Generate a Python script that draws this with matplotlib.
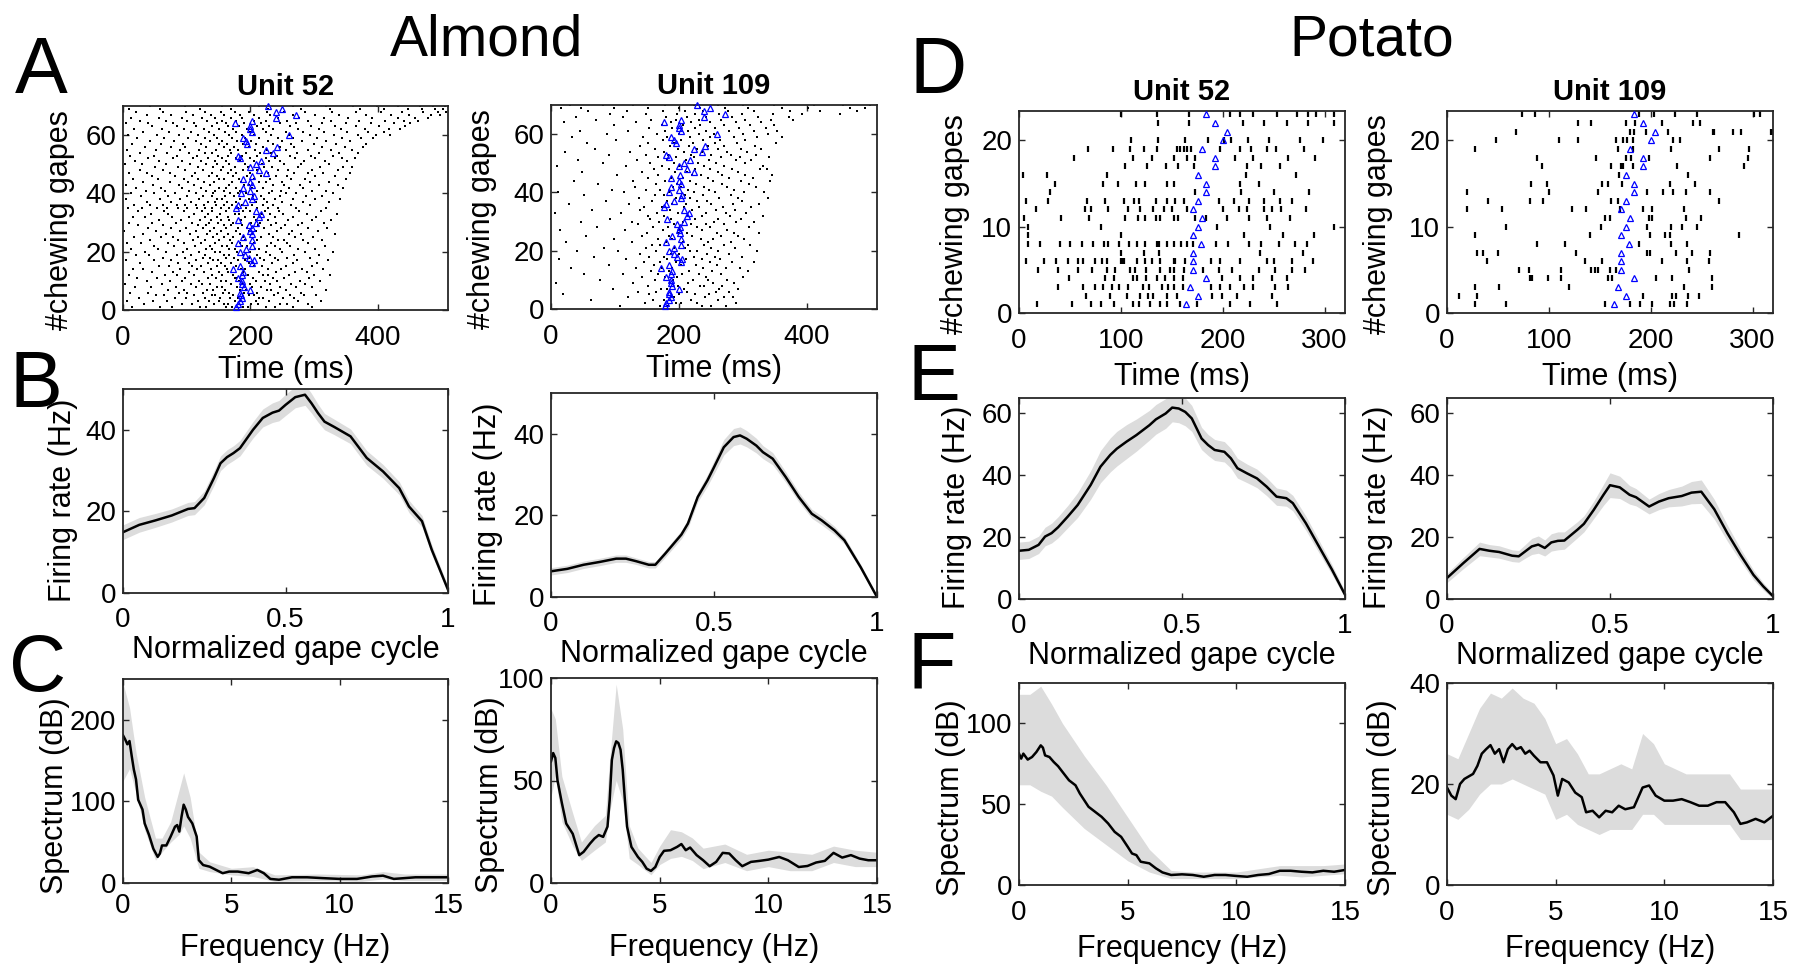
import numpy as np
import matplotlib
matplotlib.use('Agg')
import matplotlib.pyplot as plt

plt.rcParams['font.family'] = ['Liberation Sans', 'DejaVu Sans']

# ---------------- data ----------------
# gape onset per chewing gape (blue triangles), shared by both units of a session
almond_gapes = [178, 180, 184, 187, 185, 184, 200, 190, 187, 187, 180, 187, 189, 172, 184,
                203, 205, 197, 192, 184, 193, 203, 180, 203, 189, 202, 200, 202, 197, 208,
                181, 213, 216, 208, 177, 180, 192, 203, 205, 185, 200, 188, 203, 200, 188,
                202, 224, 213, 200, 208, 217, 184, 180, 236, 224, 241, 195, 193, 188, 260,
                203, 200, 200, 176, 203, 240, 272, 240, 249, 228]
potato_gapes = [164, 176, 168, 184, 171, 171, 171, 179, 171, 176, 180, 171, 176, 184, 184,
                176, 192, 192, 180, 200, 204, 192, 184]

# spike times (ms) per gape, Almond
almond_u52 = [
    [14, 58, 77, 121, 130, 162, 171, 189, 196, 224, 238, 266, 297],
    [33, 92, 108, 143, 159, 164, 201, 212, 247, 258, 290],
    [6, 47, 69, 117, 135, 150, 176, 183, 208, 229, 275, 311],
    [25, 81, 99, 128, 152, 168, 181, 214, 220, 251, 268],
    [52, 64, 111, 139, 145, 173, 198, 205, 237, 262, 284, 303],
    [11, 39, 88, 101, 126, 157, 166, 190, 211, 243, 279],
    [70, 95, 132, 141, 160, 184, 193, 226, 233, 256, 318],
    [19, 44, 83, 114, 147, 155, 179, 202, 216, 246, 272, 296],
    [3, 61, 106, 124, 137, 169, 187, 199, 231, 264, 285],
    [37, 74, 93, 119, 153, 161, 182, 208, 223, 241, 277, 309],
    [22, 53, 98, 133, 146, 175, 178, 204, 235, 252, 292],
    [9, 66, 85, 112, 140, 156, 172, 196, 219, 228, 261, 300, 325],
    [45, 79, 104, 127, 151, 165, 189, 213, 240, 270, 288],
    [16, 31, 90, 116, 138, 163, 185, 192, 227, 248, 281, 314],
    [57, 72, 109, 123, 148, 160, 177, 206, 218, 255, 297],
    [27, 86, 103, 134, 154, 170, 198, 203, 234, 266, 305],
    [4, 49, 76, 115, 142, 149, 181, 191, 221, 244, 273, 322],
    [63, 97, 125, 136, 161, 174, 197, 215, 239, 258, 294],
    [20, 41, 84, 107, 129, 158, 167, 188, 210, 231, 268, 308],
    [35, 68, 94, 120, 144, 152, 179, 200, 224, 250, 286, 329],
    [12, 55, 101, 131, 139, 166, 176, 207, 214, 247, 275, 301],
    [48, 80, 113, 137, 155, 163, 186, 195, 226, 238, 262, 317],
    [7, 29, 71, 96, 122, 145, 171, 183, 205, 233, 257, 290],
    [42, 87, 110, 128, 150, 168, 192, 211, 243, 252, 283, 312],
    [18, 60, 78, 118, 141, 159, 173, 189, 217, 236, 270, 298],
    [31, 67, 105, 132, 147, 165, 184, 203, 229, 261, 279, 333],
    [2, 51, 89, 114, 136, 153, 177, 198, 209, 242, 265, 306],
    [40, 75, 99, 126, 143, 162, 180, 194, 222, 248, 291, 320],
    [24, 62, 117, 130, 158, 170, 187, 212, 232, 254, 274],
    [10, 46, 83, 108, 135, 149, 172, 201, 215, 240, 281, 315],
    [56, 91, 121, 138, 154, 167, 185, 208, 227, 259, 296, 327],
    [15, 34, 77, 103, 129, 147, 164, 191, 206, 238, 266, 303],
    [44, 70, 112, 134, 152, 175, 182, 218, 231, 251, 289, 336],
    [23, 65, 95, 124, 140, 161, 189, 199, 223, 245, 276, 310],
    [8, 30, 53, 69, 87, 101, 116, 129, 140, 154, 167, 180, 193, 211, 228, 244, 272, 318],
    [17, 43, 62, 85, 97, 114, 127, 146, 158, 171, 186, 202, 219, 236, 263, 294],
    [38, 76, 106, 133, 144, 163, 178, 209, 226, 250, 282, 323],
    [5, 58, 90, 119, 148, 156, 183, 197, 222, 239, 267, 301, 341],
    [28, 71, 100, 125, 139, 160, 174, 204, 216, 246, 287, 313],
    [13, 49, 82, 115, 142, 168, 181, 193, 229, 255, 272, 330],
    [36, 66, 104, 130, 145, 158, 184, 211, 234, 248, 296, 319],
    [21, 59, 93, 122, 150, 162, 177, 202, 220, 261, 283, 345],
    [4, 47, 88, 111, 137, 166, 190, 197, 236, 253, 278, 307, 337],
    [32, 73, 102, 127, 143, 171, 185, 213, 225, 249, 293, 324],
    [16, 55, 96, 118, 151, 159, 182, 206, 231, 264, 286, 350],
    [45, 81, 109, 135, 147, 173, 194, 217, 240, 257, 301, 332],
    [9, 37, 74, 113, 139, 164, 178, 200, 227, 268, 290, 314, 356],
    [26, 63, 98, 126, 153, 169, 188, 210, 243, 259, 297, 338],
    [50, 86, 117, 141, 157, 175, 196, 221, 234, 275, 309, 346, 359],
    [3, 30, 67, 105, 131, 148, 167, 191, 218, 252, 279, 323],
    [19, 57, 92, 123, 144, 162, 183, 205, 229, 246, 284, 317, 352],
    [40, 78, 110, 134, 156, 178, 199, 224, 238, 270, 302, 343, 364],
    [11, 48, 84, 116, 149, 165, 187, 211, 241, 262, 295, 329],
    [27, 69, 103, 128, 140, 170, 193, 215, 233, 273, 308, 339, 369],
    [6, 52, 89, 120, 146, 168, 180, 207, 226, 256, 291, 326, 360],
    [35, 75, 98, 131, 158, 174, 197, 219, 247, 268, 313, 348, 377],
    [14, 60, 94, 122, 151, 163, 189, 209, 236, 263, 299, 335, 382],
    [42, 80, 114, 137, 155, 179, 201, 228, 250, 281, 318, 357],
    [22, 65, 102, 129, 147, 171, 192, 213, 244, 266, 304, 344, 373, 392],
    [8, 53, 88, 118, 143, 166, 186, 206, 232, 261, 294, 331, 368, 397, 419],
    [31, 72, 107, 135, 160, 177, 200, 225, 255, 283, 316, 352, 384, 409],
    [18, 61, 96, 127, 151, 172, 195, 220, 236, 274, 307, 342, 379, 417, 434],
    [46, 84, 115, 140, 164, 182, 211, 229, 262, 295, 333, 365, 401, 443],
    [5, 40, 79, 112, 148, 161, 190, 216, 247, 271, 312, 350, 389, 426, 451],
    [26, 68, 101, 132, 156, 178, 205, 224, 258, 290, 327, 370, 411, 441, 463],
    [12, 57, 93, 124, 145, 169, 187, 214, 243, 276, 316, 353, 391, 432, 458, 478],
    [37, 76, 110, 138, 159, 183, 206, 231, 267, 302, 339, 381, 420, 449, 484, 498],
    [20, 63, 99, 128, 153, 176, 198, 226, 252, 286, 328, 366, 405, 438, 470, 494, 507],
    [9, 58, 121, 169, 227, 280, 325, 372, 410, 447, 469, 489, 502],
    [43, 97, 155, 214, 266, 318, 361, 399, 431, 466, 486, 506],
]
almond_u109 = [
    [108, 171, 183, 236, 251, 274],
    [147, 196, 204, 229, 289],
    [63, 159, 177, 219, 262],
    [121, 188, 193, 241, 270, 284],
    [19, 154, 201, 226, 247],
    [136, 165, 212, 258, 279],
    [97, 172, 181, 208, 263, 293],
    [151, 199, 233, 239, 268],
    [8, 128, 186, 214, 254, 287],
    [76, 163, 191, 222, 245, 276],
    [142, 179, 197, 243, 301],
    [52, 112, 168, 205, 231, 266],
    [157, 184, 216, 252, 308],
    [31, 133, 174, 189, 238, 273, 296],
    [90, 161, 203, 227, 259],
    [145, 170, 195, 248, 283, 317],
    [12, 118, 182, 211, 236, 265],
    [68, 153, 176, 224, 257, 299],
    [139, 187, 200, 244, 278],
    [41, 105, 164, 218, 229, 262, 322],
    [83, 149, 192, 209, 251, 288],
    [158, 171, 215, 239, 271, 311],
    [24, 126, 180, 206, 246, 281],
    [99, 167, 190, 234, 253, 302],
    [55, 143, 185, 221, 266, 293],
    [150, 198, 213, 259, 286, 325],
    [14, 115, 175, 202, 237, 276],
    [72, 160, 183, 228, 249, 309],
    [136, 193, 219, 242, 271],
    [47, 127, 169, 207, 255, 290, 318],
    [93, 155, 188, 225, 262, 297],
    [151, 177, 214, 236, 280, 331],
    [6, 109, 166, 199, 243, 274, 305],
    [64, 140, 186, 220, 258, 288],
    [146, 173, 208, 232, 269, 313],
    [28, 122, 189, 211, 251, 284, 326],
    [86, 158, 181, 229, 244, 299],
    [137, 196, 217, 263, 292, 340],
    [51, 163, 176, 210, 238, 282],
    [11, 114, 184, 223, 256, 302, 334],
    [95, 148, 170, 215, 247, 287],
    [132, 191, 204, 240, 276, 321],
    [74, 165, 197, 227, 268, 309],
    [36, 129, 179, 218, 253, 298, 342],
    [152, 187, 206, 245, 279, 316],
    [104, 168, 221, 235, 267, 304, 346],
    [48, 143, 194, 213, 262, 293],
    [161, 185, 226, 249, 283, 327, 338],
    [9, 118, 174, 201, 239, 271, 332],
    [82, 155, 192, 230, 258, 303],
    [43, 135, 181, 211, 247, 289, 313],
    [167, 196, 224, 266, 295, 341],
    [91, 148, 183, 219, 250, 282, 320],
    [22, 124, 177, 208, 236, 276, 307],
    [69, 162, 199, 229, 261, 298, 328],
    [139, 186, 216, 245, 270, 319],
    [57, 151, 193, 222, 257, 291, 352],
    [102, 175, 204, 238, 265, 304],
    [33, 144, 182, 217, 249, 286, 323, 361],
    [87, 166, 200, 232, 255, 300, 339],
    [46, 121, 178, 214, 243, 279, 318, 354],
    [153, 190, 226, 257, 294, 336],
    [98, 173, 207, 233, 271, 312, 349],
    [21, 133, 188, 219, 248, 289, 329],
    [71, 157, 196, 231, 266, 303, 344, 378],
    [39, 113, 180, 213, 242, 283, 324, 372],
    [92, 148, 197, 226, 263, 299, 347, 393, 452],
    [58, 119, 175, 209, 238, 277, 318, 374, 421, 478],
    [16, 47, 98, 152, 201, 233, 272, 308, 362, 402, 468, 491],
    [29, 82, 128, 178, 224, 262, 301, 349, 411, 457, 499],
]

# spike times (ms) per gape, Potato
potato_u52 = [
    [18, 52, 71, 80, 93, 112, 118, 129, 138, 145, 158, 175, 207, 227, 253],
    [66, 89, 106, 119, 127, 132, 145, 155, 189, 199, 214, 248],
    [38, 63, 75, 82, 91, 98, 107, 122, 128, 140, 146, 152, 161, 188, 197, 207, 221, 230, 251, 264],
    [49, 84, 93, 112, 116, 125, 135, 143, 152, 161, 199, 217, 230, 248, 263],
    [19, 38, 58, 72, 86, 94, 109, 114, 125, 138, 148, 152, 162, 181, 196, 209, 236, 251, 268, 281],
    [7, 25, 36, 48, 58, 63, 75, 81, 86, 100, 101, 103, 116, 124, 131, 138, 152, 153, 163,
     188, 197, 217, 243, 250, 268, 289],
    [100, 123, 137, 237, 279],
    [9, 21, 40, 50, 62, 73, 83, 87, 98, 108, 116, 124, 135, 137, 145, 152, 159, 165, 171,
     193, 205, 226, 238, 255, 271, 283],
    [9, 100, 221, 259, 290],
    [9, 80, 194, 246, 309],
    [5, 41, 69, 104, 117, 124, 134, 138, 152, 156, 173, 184, 204, 226, 243, 266],
    [17, 65, 71, 87, 107, 119, 132, 142, 150, 165, 200, 216, 224, 240, 248, 257, 282],
    [7, 28, 67, 84, 103, 113, 118, 134, 145, 153, 162, 196, 211, 226, 240, 256, 268],
    [30, 173, 218, 250, 285],
    [35, 82, 97, 115, 124, 145, 152, 217, 236],
    [4, 27, 86, 223, 272],
    [104, 126, 144, 156, 172, 224, 238, 256],
    [54, 112, 131, 152, 165, 173, 212, 230, 264, 291],
    [68, 92, 109, 123, 135, 155, 158, 162, 165, 169, 197, 217, 228, 243, 252, 280],
    [110, 136, 163, 186, 201, 208, 225, 245, 276, 298],
    [],
    [136, 167, 220, 240, 263, 284, 309],
    [100, 135, 167, 207, 217, 230, 253, 273, 284, 292, 309],
]
potato_u109 = [
    [27, 58, 155, 180, 189, 201, 219, 223, 236],
    [12, 29, 192, 221, 225, 237, 247],
    [27, 51, 120, 233, 260],
    [81, 83, 99, 112, 158, 162, 205, 221, 260],
    [71, 80, 112, 141, 145, 148, 160, 166, 238],
    [39, 135, 152, 211, 236, 257],
    [29, 35, 50, 127, 196, 199, 225, 240, 258],
    [88, 116, 188, 220, 236],
    [27, 140, 199, 214, 219, 287],
    [58, 151, 196, 220, 231, 245],
    [155, 160, 198, 201, 235, 249],
    [20, 54, 123, 136, 170, 192, 201, 233],
    [40, 81, 94, 161, 168, 267],
    [20, 100, 148, 196, 212, 222, 235, 258],
    [82, 98, 152, 158, 172, 219, 243],
    [169, 237],
    [93, 161, 171, 173, 183, 226, 292],
    [88, 146, 176, 181, 198, 258, 295],
    [27, 168, 183, 220, 267, 296],
    [48, 110, 129, 166, 173, 177, 183, 222, 229],
    [68, 180, 184, 195, 217, 261, 262, 281, 289, 318, 319],
    [129, 141, 176, 185, 211, 241, 248],
    [74, 86, 188, 203, 224, 245, 301, 307],
]

# firing rate vs normalized gape cycle (mean and s.e.m.)
alm52_phase = [0, .05, .1, .15, .2, .22, .25, .28, .3, .32, .34, .36, .4, .43, .46, .48, .5,
               .53, .56, .58, .6, .62, .65, .7, .75, .8, .85, .88, .92, .95, 1]
alm52_rate = [14.9, 16.7, 17.8, 19.0, 20.6, 20.8, 23.3, 28.2, 31.8, 33.3, 34.3, 35.5, 40.0,
              42.9, 44.2, 44.7, 46.1, 48.0, 48.6, 46.5, 44.1, 42.0, 40.7, 38.4, 33.1, 29.8,
              25.7, 21.2, 17.6, 10.6, 0.8]
alm52_sem = [1.8, 1.8, 1.7, 1.6, 1.6, 1.6, 1.7, 1.8, 1.8, 1.8, 1.8, 1.9, 2.0, 2.2, 2.4, 2.5,
             2.6, 2.6, 2.6, 2.4, 2.2, 2.0, 1.9, 1.8, 1.8, 1.7, 1.6, 1.5, 1.4, 1.2, 0.8]

alm109_phase = [0, .05, .1, .15, .2, .23, .26, .3, .32, .35, .4, .42, .45, .48, .5, .53, .56,
                .58, .6, .63, .65, .68, .72, .76, .8, .83, .87, .9, .95, 1]
alm109_rate = [6.3, 6.9, 7.9, 8.6, 9.4, 9.4, 8.8, 7.9, 7.9, 10.6, 15.3, 18.0, 24.5, 28.6,
               31.8, 36.7, 39.2, 39.6, 38.8, 37.1, 35.5, 33.9, 29.4, 24.5, 20.4, 18.8, 16.3,
               13.9, 7.3, 0.0]
alm109_sem = [0.9, 0.9, 0.9, 0.9, 0.9, 0.9, 0.8, 0.8, 0.8, 0.9, 1.0, 1.1, 1.2, 1.4, 1.6, 1.9,
              2.1, 2.1, 2.0, 1.8, 1.6, 1.5, 1.3, 1.2, 1.1, 1.1, 1.0, 0.9, 0.7, 0.4]

pot52_phase = [0, .03, .06, .08, .1, .12, .15, .18, .22, .25, .28, .3, .33, .36, .38, .4, .42,
               .45, .47, .49, .51, .53, .56, .58, .6, .63, .65, .67, .7, .73, .76, .79, .82,
               .84, .88, .92, .96, 1]
pot52_rate = [15.6, 15.9, 17.5, 20.2, 21.3, 23.2, 26.7, 30.4, 36.9, 42.8, 46.6, 48.6, 50.9,
              53.0, 54.6, 56.2, 58.1, 60.0, 61.9, 61.6, 60.5, 58.4, 51.9, 49.8, 48.2, 47.6,
              45.5, 42.3, 40.6, 39.0, 36.3, 33.1, 32.6, 31.0, 24.5, 17.0, 9.5, 1.4]
pot52_sem = [2.8, 2.8, 2.8, 3.0, 3.2, 3.4, 3.6, 4.0, 4.6, 5.2, 5.5, 5.6, 5.5, 5.2, 5.0, 4.8,
             4.8, 4.8, 4.6, 4.6, 4.5, 4.2, 3.6, 3.4, 3.4, 3.3, 3.2, 3.2, 3.0, 3.0, 2.9, 2.8,
             2.6, 2.5, 2.3, 2.0, 1.6, 1.0]

pot109_phase = [0, .05, .1, .13, .16, .2, .22, .24, .26, .28, .3, .32, .34, .36, .4, .42, .45,
                .48, .5, .53, .56, .58, .62, .65, .68, .72, .75, .78, .82, .86, .9, .94, .97, 1]
pot109_rate = [6.8, 11.6, 16.2, 15.6, 15.2, 14.0, 13.8, 15.4, 17.0, 17.6, 16.5, 18.3, 18.8,
               18.9, 22.4, 24.3, 28.8, 33.7, 36.8, 36.1, 33.7, 32.9, 29.9, 31.5, 32.6, 33.3,
               34.4, 34.7, 29.0, 21.3, 14.3, 7.8, 4.1, 0.9]
pot109_sem = [1.5, 1.8, 2.2, 2.0, 2.0, 1.9, 1.9, 2.2, 2.6, 2.8, 2.6, 2.8, 2.9, 2.8, 2.6, 2.6,
              2.8, 3.4, 4.0, 3.6, 3.0, 2.8, 2.4, 2.6, 2.8, 3.2, 3.6, 3.8, 3.2, 2.6, 2.0, 1.6,
              1.2, 0.8]

# spectra (dB) with confidence band
alm52_f = [0, .1, .2, .3, .4, .5, .6, .7, .9, 1.0, 1.2, 1.4, 1.6, 1.7, 1.8, 2.0, 2.2, 2.4,
           2.5, 2.6, 2.7, 2.8, 2.9, 3.0, 3.2, 3.4, 3.5, 3.7, 4.0, 4.3, 4.6, 4.9, 5.3, 5.8,
           6.2, 6.5, 6.8, 7.2, 7.8, 8.5, 9.2, 10, 10.8, 11.5, 12, 12.5, 13.5, 14.5, 15]
alm52_spec = [181, 176, 170, 174, 156, 139, 127, 102, 90, 73, 59, 42, 32, 36, 46, 46, 57, 69,
              71, 63, 81, 96, 90, 81, 73, 57, 28, 22, 20, 16, 12, 14, 14, 12, 16, 12, 5, 4,
              7, 7, 6, 5, 5, 8, 9, 5, 7, 7, 7]
alm52_bf = [0, 0.3, 0.6, 1.0, 1.5, 1.8, 2.2, 2.6, 2.8, 3.1, 3.5, 4, 5, 6, 7, 9, 11, 12, 13, 15]
alm52_lo = [125, 140, 110, 65, 28, 38, 50, 60, 70, 55, 18, 14, 10, 8, 2, 3, 2, 5, 3, 3]
alm52_hi = [245, 215, 160, 105, 55, 55, 75, 115, 135, 105, 38, 26, 18, 20, 10, 11, 10, 14, 11, 11]

alm109_f = [0, .1, .2, .3, .5, .7, 1.0, 1.3, 1.5, 1.8, 2.0, 2.2, 2.4, 2.6, 2.7, 2.8, 2.9, 3.0,
            3.1, 3.2, 3.3, 3.4, 3.5, 3.7, 4.0, 4.2, 4.4, 4.6, 4.8, 5.0, 5.2, 5.5, 5.8, 6.0,
            6.2, 6.4, 6.7, 7.0, 7.3, 7.6, 7.9, 8.2, 8.5, 8.8, 9.2, 9.6, 10.0, 10.5, 10.9,
            11.4, 11.8, 12.2, 12.6, 13.0, 13.4, 13.8, 14.2, 14.6, 15]
alm109_spec = [59.3, 63.4, 61, 50, 39, 29, 24, 13.6, 15.2, 19.3, 21.7, 23.4, 22.5, 27.5, 40.5,
               60, 65.8, 69.1, 68.3, 65, 55.2, 40.5, 27.5, 17.6, 12.7, 10.3, 7, 5.9, 7.8,
               12.7, 15.7, 16, 17.6, 19, 16, 17.3, 13.6, 11.1, 8.2, 10.3, 14.7, 14.4, 11.1,
               8.2, 10.3, 10.8, 11.4, 12.7, 11.1, 7.8, 8.3, 10, 10.8, 14.7, 12.4, 13.6, 11.9,
               11.1, 11.1]
alm109_bf = [0, 0.2, 0.5, 1.0, 1.4, 2.0, 2.5, 2.7, 3.0, 3.3, 3.6, 4.0, 4.6, 5.0, 5.5, 6.0,
             6.5, 7.0, 8.0, 9.0, 10, 11, 12, 13, 14, 15]
alm109_lo = [42, 52, 30, 18, 11, 16, 20, 35, 50, 40, 12, 9, 4, 9, 12, 13, 11, 7, 10, 6, 8, 6,
             6, 10, 8, 8]
alm109_hi = [85, 80, 52, 34, 20, 28, 33, 60, 97, 75, 28, 17, 10, 18, 26, 25, 22, 17, 19, 14,
             16, 15, 14, 18, 16, 15]

pot52_f = [0, .1, .2, .4, .6, .8, 1.0, 1.1, 1.2, 1.4, 1.6, 1.8, 2.0, 2.3, 2.6, 2.8, 3.0, 3.2,
           3.5, 3.8, 4.1, 4.4, 4.7, 5.0, 5.2, 5.4, 5.6, 6.0, 6.3, 6.6, 7.0, 7.5, 8.0, 8.5,
           9.0, 9.5, 10, 10.5, 11, 11.5, 12, 12.5, 13, 13.5, 14, 14.5, 15]
pot52_spec = [81.3, 78.2, 81.3, 77.6, 79.2, 82.3, 86.4, 85, 80.2, 79.2, 76.1, 73.5, 70, 64.8,
              61.7, 56.6, 52.5, 48.4, 45.3, 42.2, 38.1, 32.9, 29.8, 23.7, 19.5, 18.5, 14.4,
              13.4, 10.3, 7.8, 6.2, 6.6, 6.2, 5.1, 6.2, 6.2, 5.6, 5.1, 6.2, 6.8, 8.8, 8.8,
              8.2, 7.8, 8.8, 8.2, 9.3]
pot52_bf = [0, 0.5, 1.0, 1.5, 2, 3, 4, 5, 6, 7, 8, 10, 12, 13, 14, 15]
pot52_lo = [62, 62, 58, 55, 48, 35, 25, 15, 8, 4, 4, 4, 6, 5, 6, 7]
pot52_hi = [118, 118, 123, 112, 100, 80, 62, 42, 22, 9, 8, 8, 12, 12, 12, 13]

pot109_f = [0, .2, .4, .6, .8, 1.0, 1.2, 1.4, 1.6, 1.8, 2.0, 2.2, 2.4, 2.6, 2.8, 3.0, 3.2,
            3.4, 3.6, 3.8, 4.0, 4.3, 4.6, 4.9, 5.1, 5.3, 5.6, 5.9, 6.2, 6.4, 6.7, 7.0, 7.3,
            7.6, 7.9, 8.2, 8.6, 9.0, 9.3, 9.6, 10.0, 10.4, 10.8, 11.2, 11.6, 12.0, 12.4,
            12.8, 13.2, 13.5, 13.8, 14.2, 14.6, 15]
pot109_spec = [19.3, 17.7, 17, 20, 21, 21.5, 22, 23.6, 26, 26.9, 27.7, 26, 26.9, 24.3, 26.9,
               27.9, 26.9, 27.3, 26, 26.6, 25.6, 24.3, 24.3, 21.7, 17.7, 21, 20.3, 18.3, 17.4,
               14.4, 14.7, 13.4, 14.7, 14.4, 15.7, 15, 15.4, 19.3, 19.7, 17.7, 16.7, 16.7, 17,
               16.4, 15.7, 15.7, 16.4, 16.4, 14.4, 12.1, 12.4, 13.1, 12.4, 13.7]
pot109_bf = [0, 0.5, 1.0, 1.5, 2.0, 2.5, 3.0, 3.5, 4.0, 4.5, 5.0, 5.5, 6.0, 6.5, 7.0, 7.5, 8.0,
             8.5, 9.0, 9.5, 10, 11, 12, 13, 13.5, 14, 15]
pot109_lo = [14, 13, 15, 18, 20, 20, 21, 20, 19, 18, 13, 14, 12, 11, 10, 11, 11, 11, 14, 14,
             12, 12, 12, 12, 9, 9, 9]
pot109_hi = [26, 25, 30, 35, 38, 37, 39, 37, 36, 33, 28, 29, 26, 22, 22, 23, 24, 23, 30, 28,
             24, 22, 22, 22, 19, 19, 19]

# ---------------- figure ----------------
W, H = 1800, 974
fig = plt.figure(figsize=(W / 100, H / 100), dpi=100)
AX_COL = '#262626'
BAND = '#dcdcdc'
FS = 20      # tick labels
LFS = 22     # axis labels


def add_ax(x0, y0, x1, y1):
    return fig.add_axes([x0 / W, 1 - y1 / H, (x1 - x0) / W, (y1 - y0) / H])


def style(ax, xpad):
    for s in ax.spines.values():
        s.set_linewidth(1.3)
        s.set_color(AX_COL)
    ax.tick_params(direction='in', top=True, right=True, length=4, width=1.0,
                   color=AX_COL, labelsize=FS)
    ax.tick_params(axis='x', pad=xpad)
    ax.tick_params(axis='y', pad=5)


def labels(ax, xl, yl, xly, ylx, yly):
    ax.set_xlabel(xl, fontsize=LFS)
    ax.set_ylabel(yl, fontsize=LFS)
    ax.xaxis.set_label_coords(0.5, xly)
    ax.yaxis.set_label_coords(ylx, yly)


def raster(ax, rows, gapes, tick):
    xs = [t for r in rows for t in r]
    ys = [i + 1 for i, r in enumerate(rows) for _ in r]
    if tick:
        ax.plot(xs, ys, ls='none', marker='|', ms=5, mew=1.6, color='k')
    else:
        ax.plot(xs, ys, ls='none', marker='s', ms=1.7, mew=0, color='k')
    ax.plot(gapes, np.arange(1, len(gapes) + 1), ls='none', marker='^', ms=4.6,
            mfc='none', mec='b', mew=0.9, clip_on=False, zorder=5)


def rate(ax, x, y, sem):
    x, y, sem = np.asarray(x), np.asarray(y), np.asarray(sem)
    ax.fill_between(x, y - sem, y + sem, color=BAND, lw=0)
    ax.plot(x, y, color='k', lw=1.8)
    ax.set_xlim(0, 1)
    ax.set_xticks([0, 0.5, 1])
    ax.set_xticklabels(['0', '0.5', '1'])


def spectrum(ax, f, y, bf, lo, hi):
    ax.fill_between(bf, lo, hi, color=BAND, lw=0)
    ax.plot(f, y, color='k', lw=1.8)
    ax.set_xlim(0, 15)
    ax.set_xticks([0, 5, 10, 15])


cols = [(123, 448), (551, 877), (1019, 1345), (1447, 1773)]

# rasters
rA = [(106, 310), (105, 309), (111, 313), (111, 313)]
ras = [(almond_u52, almond_gapes, False, 510, 70, 'Unit 52'),
       (almond_u109, almond_gapes, False, 510, 70, 'Unit 109'),
       (potato_u52, potato_gapes, True, 320, 23.4, 'Unit 52'),
       (potato_u109, potato_gapes, True, 320, 23.4, 'Unit 109')]
ylx_r = [-0.148, -0.166, -0.150, -0.166]
for k, (rows, gapes, tick, xmax, ymax, ttl) in enumerate(ras):
    ax = add_ax(cols[k][0], rA[k][0], cols[k][1], rA[k][1])
    raster(ax, rows, gapes, tick)
    ax.set_xlim(0, xmax)
    ax.set_ylim(0, ymax)
    if tick:
        ax.set_xticks([0, 100, 200, 300])
        ax.set_yticks([0, 10, 20])
    else:
        ax.set_xticks([0, 200, 400])
        ax.set_yticks([0, 20, 40, 60])
    style(ax, 10.5)
    ax.set_title(ttl, fontsize=21, fontweight='bold', pad=8)
    labels(ax, 'Time (ms)', '#chewing gapes',
           -0.22 if not tick else -0.243, ylx_r[k], 0.44)

# firing rates
rB = [(389, 593), (393, 597), (398, 599), (398, 599)]
rates = [(alm52_phase, alm52_rate, alm52_sem, 50, [0, 20, 40]),
         (alm109_phase, alm109_rate, alm109_sem, 50, [0, 20, 40]),
         (pot52_phase, pot52_rate, pot52_sem, 65, [0, 20, 40, 60]),
         (pot109_phase, pot109_rate, pot109_sem, 65, [0, 20, 40, 60])]
ylx_b = [-0.138, -0.147, -0.144, -0.166]
for k, (x, y, s, ymax, yt) in enumerate(rates):
    ax = add_ax(cols[k][0], rB[k][0], cols[k][1], rB[k][1])
    rate(ax, x, y, s)
    ax.set_ylim(0, ymax)
    ax.set_yticks(yt)
    style(ax, 10)
    h = rB[k][1] - rB[k][0]
    labels(ax, 'Normalized gape cycle', 'Firing rate (Hz)', -42.0 / h, ylx_b[k], 0.455)

# spectra
rC = [(679, 883), (678, 883), (683, 885), (683, 885)]
specs = [(alm52_f, alm52_spec, alm52_bf, alm52_lo, alm52_hi, 250, [0, 100, 200]),
         (alm109_f, alm109_spec, alm109_bf, alm109_lo, alm109_hi, 100, [0, 50, 100]),
         (pot52_f, pot52_spec, pot52_bf, pot52_lo, pot52_hi, 125, [0, 50, 100]),
         (pot109_f, pot109_spec, pot109_bf, pot109_lo, pot109_hi, 40, [0, 20, 40])]
ylx_c = [-0.162, -0.141, -0.163, -0.153]
xpad_c = [7, 7, 10.5, 10.5]
for k, (f, y, bf, lo, hi, ymax, yt) in enumerate(specs):
    ax = add_ax(cols[k][0], rC[k][0], cols[k][1], rC[k][1])
    spectrum(ax, f, y, bf, lo, hi)
    ax.set_ylim(0, ymax)
    ax.set_yticks(yt)
    style(ax, xpad_c[k])
    labels(ax, 'Frequency (Hz)', 'Spectrum (dB)', -0.245, ylx_c[k], 0.43)

# panel letters and food titles
for ch, x, yb in [('A', 15, 93), ('B', 9, 407), ('C', 9, 691),
                  ('D', 909, 93), ('E', 907, 400), ('F', 907, 688)]:
    fig.text(x / W, 1 - yb / H, ch, fontsize=57, va='baseline', ha='left')
fig.text(487 / W, 1 - 56 / H, 'Almond', fontsize=41, va='baseline', ha='center')
fig.text(1372 / W, 1 - 56 / H, 'Potato', fontsize=41, va='baseline', ha='center')

fig.savefig('out.png', dpi=100)
